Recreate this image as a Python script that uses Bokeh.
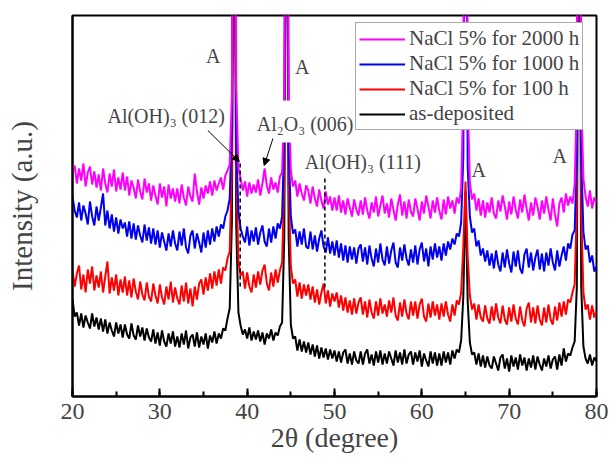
import numpy as np
from bokeh.plotting import figure
from bokeh.models import (Range1d, SingleIntervalTicker, FixedTicker, Legend, LegendItem,
                          Label, Arrow, NormalHead, BoxAnnotation)
from bokeh.embed import file_html
from bokeh.resources import INLINE

# 2-theta sampling grid (degree)
two_theta = np.arange(20.0, 80.0001, 0.25)

# Intensities (a.u.)
nacl_2000h = [
    223, 231, 213, 228, 216, 233, 210, 224, 230, 212, 225, 209,
    222, 206, 228, 213, 204, 223, 210, 227, 205, 219, 207, 224,
    206, 220, 201, 216, 209, 198, 217, 205, 197, 218, 204, 213,
    196, 211, 201, 192, 213, 199, 210, 190, 212, 198, 208, 195,
    208, 193, 212, 199, 191, 210, 200, 195, 223, 205, 192, 209,
    198, 211, 203, 215, 201, 216, 206, 213, 219, 207, 221, 226,
    232, 300, 900, 310, 228, 218, 206, 215, 200, 214, 203, 212,
    204, 217, 201, 213, 228, 211, 203, 219, 207, 214, 204, 220,
    224, 300, 900, 300, 226, 210, 216, 200, 213, 203, 196, 211,
    206, 193, 210, 198, 190, 207, 196, 188, 205, 192, 200, 186,
    199, 186, 201, 184, 196, 182, 198, 189, 180, 197, 187, 181,
    196, 182, 199, 186, 178, 194, 184, 200, 180, 191, 201, 183,
    193, 179, 198, 187, 176, 192, 202, 181, 195, 178, 197, 185,
    180, 198, 188, 176, 195, 183, 201, 190, 178, 196, 184, 199,
    186, 177, 197, 182, 200, 188, 196, 183, 199, 193, 208, 300,
    900, 300, 214, 197, 203, 186, 198, 181, 196, 179, 194, 184,
    199, 183, 178, 196, 185, 201, 190, 177, 195, 182, 200, 187,
    178, 197, 184, 202, 188, 176, 194, 181, 199, 190, 177, 196,
    183, 200, 187, 176, 198, 182, 170, 193, 199, 184, 203, 191,
    200, 193, 212, 300, 900, 300, 218, 200, 190, 206, 188, 199,
    194]

nacl_1000h = [
    200, 186, 179, 194, 176, 191, 183, 172, 195, 180, 171, 190,
    176, 189, 203, 171, 186, 168, 182, 165, 179, 163, 177, 168,
    174, 160, 175, 158, 173, 157, 171, 161, 154, 172, 156, 169,
    153, 168, 152, 166, 149, 164, 155, 146, 163, 150, 166, 153,
    146, 165, 151, 168, 149, 143, 161, 166, 148, 163, 154, 144,
    164, 149, 166, 152, 168, 155, 170, 160, 172, 168, 180, 186,
    198, 270, 800, 250, 184, 168, 160, 154, 170, 151, 166, 155,
    169, 152, 164, 171, 155, 150, 168, 154, 170, 158, 173, 168,
    180, 260, 800, 250, 180, 163, 167, 150, 165, 152, 168, 150,
    148, 165, 147, 161, 145, 158, 166, 150, 144, 159, 143, 155,
    141, 156, 139, 153, 136, 151, 134, 150, 137, 149, 133, 148,
    152, 135, 149, 132, 151, 138, 130, 148, 134, 153, 137, 131,
    150, 133, 146, 154, 134, 129, 149, 136, 152, 138, 131, 147,
    134, 151, 132, 147, 154, 135, 148, 130, 150, 137, 153, 139,
    150, 136, 153, 141, 155, 147, 158, 152, 163, 160, 174, 240,
    800, 230, 180, 164, 168, 150, 156, 141, 148, 135, 146, 131,
    143, 128, 146, 132, 125, 144, 129, 147, 133, 124, 145, 130,
    146, 128, 123, 142, 148, 129, 144, 126, 139, 147, 127, 143,
    125, 144, 131, 148, 134, 126, 146, 130, 141, 150, 136, 153,
    148, 162, 166, 240, 800, 240, 165, 147, 151, 134, 141, 125,
    130]

nacl_100h = [
    126, 110, 123, 131, 107, 122, 104, 127, 113, 130, 106, 121,
    109, 125, 104, 120, 135, 103, 119, 106, 122, 101, 117, 104,
    120, 101, 116, 99, 118, 105, 97, 115, 102, 96, 114, 100,
    95, 113, 101, 93, 112, 99, 92, 110, 97, 115, 94, 109,
    98, 92, 111, 95, 114, 93, 108, 90, 110, 97, 113, 117,
    102, 119, 106, 123, 108, 125, 111, 127, 113, 129, 126, 138,
    145, 230, 700, 220, 135, 121, 125, 108, 124, 110, 104, 122,
    109, 125, 112, 126, 132, 113, 106, 124, 110, 127, 114, 126,
    134, 215, 700, 215, 130, 113, 117, 100, 114, 98, 112, 101,
    112, 97, 110, 94, 107, 92, 104, 113, 93, 106, 90, 103,
    95, 104, 89, 101, 86, 99, 84, 96, 82, 98, 83, 94,
    99, 82, 95, 79, 97, 84, 78, 95, 81, 98, 83, 92,
    80, 96, 84, 99, 81, 76, 94, 80, 97, 83, 77, 95,
    81, 95, 78, 92, 98, 80, 75, 93, 79, 95, 81, 92,
    77, 93, 80, 95, 82, 75, 92, 81, 96, 92, 104, 150,
    215, 140, 101, 87, 93, 77, 92, 79, 75, 91, 78, 73,
    90, 76, 93, 79, 73, 91, 77, 72, 89, 75, 92, 78,
    72, 90, 76, 70, 88, 94, 74, 89, 73, 91, 77, 71,
    89, 74, 92, 77, 72, 90, 76, 94, 80, 95, 82, 97,
    94, 104, 112, 190, 700, 185, 104, 87, 92, 77, 91, 79,
    86]

as_deposited = [
    97, 80, 84, 71, 83, 69, 81, 74, 68, 83, 70, 79,
    67, 78, 65, 77, 63, 74, 66, 60, 74, 63, 72, 59,
    72, 62, 58, 73, 61, 57, 71, 60, 69, 56, 68, 59,
    55, 67, 53, 64, 51, 66, 55, 50, 63, 53, 65, 50,
    60, 49, 63, 52, 66, 48, 59, 62, 50, 64, 49, 60,
    52, 63, 48, 61, 54, 65, 53, 63, 58, 68, 66, 78,
    88, 175, 650, 170, 84, 71, 62, 67, 58, 69, 56, 65,
    57, 66, 55, 64, 52, 63, 58, 67, 56, 64, 61, 70,
    74, 160, 650, 160, 72, 58, 60, 46, 57, 45, 55, 44,
    54, 42, 52, 40, 51, 38, 49, 39, 48, 37, 47, 38,
    46, 35, 45, 34, 44, 47, 33, 43, 32, 45, 36, 33,
    45, 32, 43, 47, 33, 42, 31, 45, 34, 46, 32, 43,
    33, 45, 38, 31, 46, 34, 44, 32, 47, 33, 42, 45,
    32, 44, 35, 46, 30, 43, 36, 30, 45, 33, 44, 31,
    43, 31, 45, 34, 44, 32, 46, 38, 47, 44, 56, 100,
    205, 95, 54, 42, 44, 32, 43, 30, 41, 29, 40, 31,
    28, 40, 33, 26, 39, 42, 28, 38, 25, 41, 30, 39,
    27, 42, 31, 39, 26, 38, 29, 41, 27, 40, 32, 26,
    38, 30, 41, 28, 37, 40, 27, 42, 31, 48, 35, 43,
    41, 49, 55, 110, 650, 110, 50, 38, 33, 42, 31, 39,
    35]

series_labels = ["NaCl 5% for 2000 h", "NaCl 5% for 1000 h", "NaCl 5% for 100 h", "as-deposited"]
series_colors = ["#FF00FF", "#0000EE", "#FF0000", "#000000"]

# Peak annotations ("A") positions (degree, a.u.)
a_label_x = [36.1, 46.3, 66.5, 75.8]
a_label_y = [341, 330, 227, 241]

# Phase marker lines (degree) and their vertical extent (a.u.)
marker_x = [39.2, 48.9]
marker_top = [236, 221]
marker_bottom = [110, 109]

FONT = "Liberation Serif"

p = figure(width=609, height=461, output_backend="svg", toolbar_location=None,
           x_range=Range1d(20, 80), y_range=Range1d(0, 381),
           min_border_left=72, min_border_right=13, min_border_top=15, min_border_bottom=65)

p.xgrid.visible = False
p.ygrid.visible = False
p.outline_line_color = "black"
p.outline_line_width = 2
p.background_fill_color = "white"

xa = p.xaxis[0]
xa.ticker = SingleIntervalTicker(interval=10, num_minor_ticks=2)
xa.axis_label = "2θ (degree)"
xa.axis_label_text_font = FONT
xa.axis_label_text_font_style = "normal"
xa.axis_label_text_font_size = "28px"
xa.axis_label_standoff = 0
xa.major_label_text_font = FONT
xa.major_label_text_font_size = "24px"
xa.major_label_standoff = 7
xa.axis_line_width = 2
xa.major_tick_in = 8
xa.major_tick_out = 0
xa.minor_tick_in = 5
xa.minor_tick_out = 0
xa.major_tick_line_width = 2
xa.minor_tick_line_width = 2

ya = p.yaxis[0]
ya.ticker = FixedTicker(ticks=[])
ya.axis_label = "Intensity (a.u.)"
ya.axis_label_text_font = FONT
ya.axis_label_text_font_style = "normal"
ya.axis_label_text_font_size = "29px"
ya.axis_label_standoff = 35
ya.axis_line_width = 2
ya.major_tick_line_color = None
ya.minor_tick_line_color = None

renderers = {}
for lab, col, ys in [(series_labels[3], series_colors[3], as_deposited),
                     (series_labels[2], series_colors[2], nacl_100h),
                     (series_labels[1], series_colors[1], nacl_1000h),
                     (series_labels[0], series_colors[0], nacl_2000h)]:
    renderers[lab] = p.line(two_theta, ys, line_color=col, line_width=2)

# marker dashed lines
for mx, mt, mb in zip(marker_x, marker_top, marker_bottom):
    p.line([mx, mx], [mb, mt], line_color="black", line_width=1.5, line_dash="4 3")

# white box behind Al2O3 label
p.add_layout(BoxAnnotation(left=41.0, right=46.3, bottom=254, top=296,
                           fill_color="white", fill_alpha=1.0, line_color=None))

for ax_, ay_ in zip(a_label_x, a_label_y):
    p.add_layout(Label(x=ax_, y=ay_, text="A", text_font=FONT, text_font_size="20px",
                       text_align="center", text_baseline="middle"))

p.add_layout(Label(x=24.0, y=281, text="Al(OH)₃ (012)", text_font=FONT, text_font_size="20px",
                   text_align="left", text_baseline="middle"))
p.add_layout(Label(x=41.1, y=273, text="Al₂O₃ (006)", text_font=FONT, text_font_size="20px",
                   text_align="left", text_baseline="middle"))
p.add_layout(Label(x=46.6, y=235, text="Al(OH)₃ (111)", text_font=FONT, text_font_size="20px",
                   text_align="left", text_baseline="middle"))

p.add_layout(Arrow(x_start=35.5, y_start=266, x_end=39.1, y_end=235,
                   line_color="black", line_width=1,
                   end=NormalHead(size=7, fill_color="black", line_color="black")))
p.add_layout(Arrow(x_start=42.95, y_start=258, x_end=41.95, y_end=231,
                   line_color="black", line_width=1,
                   end=NormalHead(size=7, fill_color="black", line_color="black")))

legend = Legend(items=[LegendItem(label=l, renderers=[renderers[l]]) for l in series_labels],
                location=(283, 266), label_text_font=FONT, label_text_font_size="21px",
                glyph_width=46, glyph_height=24, label_height=24, label_standoff=4,
                spacing=0, padding=3, margin=0,
                border_line_color="#555555", border_line_width=1,
                background_fill_color="white", background_fill_alpha=1.0)
p.add_layout(legend)

open("out.html", "w").write(file_html(p, INLINE))
